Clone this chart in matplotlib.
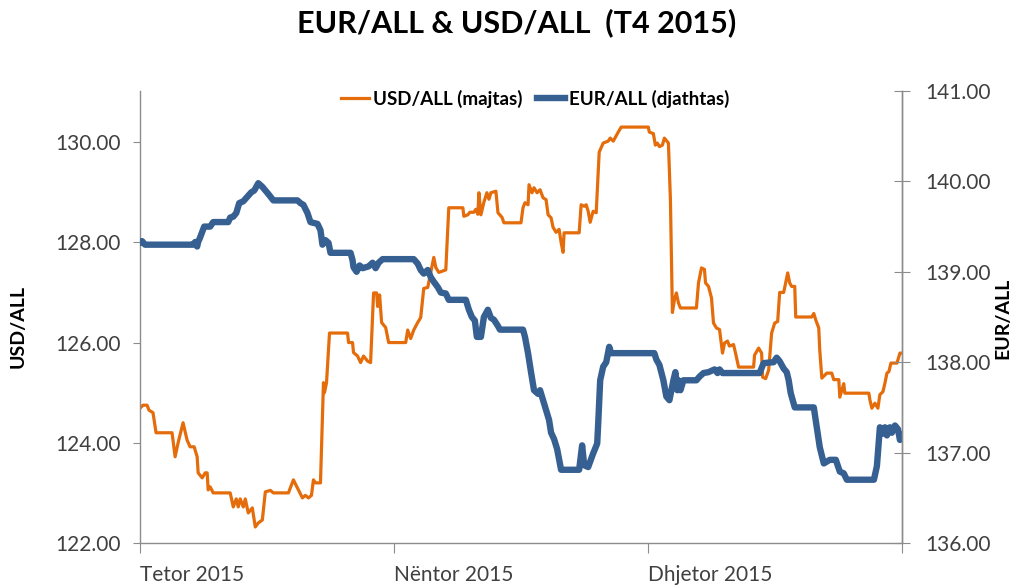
import matplotlib
matplotlib.use("Agg")
import matplotlib.pyplot as plt
from matplotlib.lines import Line2D

plt.rcParams['font.family'] = ['Lato', 'DejaVu Sans']

# ---- data (day offset from 1 Oct 2015, value) ----
usd_day = [0.0, 0.36, 0.85, 1.09, 1.57, 1.94, 3.87, 4.24, 4.6, 5.2, 5.69, 6.05, 6.54, 6.9, 7.02,
           7.51, 7.87, 8.11, 8.23, 8.47, 8.84, 10.89, 11.26, 11.62, 11.86, 12.1, 12.47, 12.71,
           13.07, 13.56, 13.92, 14.28, 14.77, 15.13, 15.74, 16.1, 17.92, 18.52, 19.01, 19.61,
           19.97, 20.34, 20.7, 20.94, 21.18, 21.79, 22.15, 22.27, 22.52, 22.88, 25.06, 25.18,
           25.66, 25.78, 26.27, 26.63, 26.99, 27.48, 27.84, 28.2, 28.57, 28.69, 28.93, 29.17,
           29.66, 30.02, 32.08, 32.32, 32.68, 33.05, 33.53, 33.89, 34.26, 34.74, 35.11, 35.47,
           35.71, 36.07, 36.92, 37.28, 38.98, 39.1, 39.58, 39.83, 40.31, 40.55, 40.79, 40.92,
           41.16, 41.52, 41.88, 42.13, 42.37, 42.97, 43.22, 43.7, 43.94, 46.0, 46.24, 46.48,
           46.85, 46.97, 47.33, 47.57, 47.94, 48.3, 48.66, 49.03, 49.27, 49.63, 49.87, 50.24,
           50.6, 50.84, 51.08, 51.2, 53.02, 53.26, 53.63, 53.87, 54.11, 54.35, 54.71, 55.08,
           55.44, 55.92, 56.53, 56.77, 57.14, 57.74, 58.1, 61.37, 61.49, 61.98, 62.22, 62.46,
           62.71, 63.07, 63.31, 63.8, 64.04, 64.28, 64.52, 64.76, 65.01, 65.25, 67.18, 67.43,
           67.79, 68.15, 68.28, 68.64, 69.0, 69.24, 69.6, 69.97, 70.33, 70.57, 70.93, 71.17,
           71.66, 71.9, 72.27, 74.08, 74.2, 74.69, 75.05, 75.17, 75.54, 75.9, 76.26, 76.63,
           76.99, 77.23, 77.71, 77.84, 78.2, 78.44, 78.68, 79.05, 79.17, 81.1, 81.35, 81.59,
           81.95, 82.07, 82.32, 82.92, 83.52, 83.76, 84.37, 84.49, 84.97, 85.09, 88.0, 88.12,
           88.36, 88.73, 89.09, 89.33, 89.7, 89.94, 90.18, 90.42, 90.66, 91.39, 91.75, 92.0]
usd_val = [124.69, 124.75, 124.75, 124.65, 124.6, 124.2, 124.2, 123.72, 124.0, 124.4, 124.05,
           123.92, 123.92, 123.72, 123.4, 123.3, 123.4, 123.4, 123.06, 123.12, 123.0, 123.0,
           122.72, 122.88, 122.72, 122.88, 122.72, 122.88, 122.6, 122.7, 122.32, 122.4, 122.46,
           123.02, 123.05, 123.0, 123.0, 123.26, 123.1, 122.9, 122.95, 122.9, 122.95, 123.26,
           123.2, 123.2, 125.2, 125.0, 125.2, 126.19, 126.19, 126.0, 126.0, 125.8, 125.73,
           125.6, 125.73, 125.63, 125.6, 126.99, 126.99, 126.72, 126.95, 126.4, 126.3, 126.0,
           126.0, 126.25, 126.08, 126.25, 126.4, 126.5, 127.08, 127.1, 127.4, 127.7, 127.5,
           127.4, 127.45, 128.69, 128.69, 128.52, 128.55, 128.6, 128.6, 128.66, 128.56, 128.99,
           128.55, 128.8, 128.99, 128.86, 128.99, 129.02, 128.59, 128.5, 128.39, 128.39, 128.69,
           128.79, 128.75, 129.15, 128.99, 129.09, 128.99, 129.05, 128.89, 128.85, 128.55,
           128.49, 128.3, 128.2, 128.26, 128.0, 127.8, 128.19, 128.19, 128.75, 128.72, 128.75,
           128.62, 128.4, 128.62, 128.59, 129.8, 129.98, 130.02, 130.08, 130.02, 130.2, 130.3,
           130.3, 130.2, 130.17, 129.94, 129.98, 129.91, 129.94, 130.08, 129.98, 128.85, 126.6,
           126.85, 126.99, 126.79, 126.69, 126.69, 127.19, 127.49, 127.46, 127.19, 127.12,
           126.89, 126.39, 126.29, 126.26, 125.79, 125.99, 126.03, 125.93, 125.96, 125.79,
           125.51, 125.51, 125.75, 125.89, 125.79, 125.31, 125.28, 125.45, 126.19, 126.39,
           126.42, 127.0, 127.0, 127.1, 127.39, 127.19, 127.12, 127.12, 126.51, 126.51, 126.58,
           126.45, 126.29, 125.85, 125.29, 125.39, 125.39, 125.26, 125.26, 124.91, 125.18,
           124.99, 124.99, 124.86, 124.69, 124.79, 124.69, 124.96, 125.02, 125.19, 125.39,
           125.42, 125.59, 125.59, 125.79, 125.79]

eur_day = [0.0, 0.24, 0.61, 6.42, 6.66, 6.9, 7.02, 7.26, 7.75, 8.47, 8.84, 10.65, 10.89, 11.26,
           11.62, 11.98, 12.47, 12.95, 13.44, 13.8, 14.28, 14.77, 15.13, 15.5, 16.1, 19.01,
           19.37, 19.73, 20.22, 20.58, 21.43, 21.79, 22.03, 22.39, 22.76, 23.0, 25.42, 25.66,
           25.78, 26.15, 26.51, 26.88, 27.6, 28.08, 28.45, 28.81, 29.29, 33.05, 33.53, 33.89,
           34.26, 34.74, 35.11, 35.47, 35.95, 36.32, 36.92, 37.28, 39.34, 39.71, 40.07, 40.43,
           40.67, 41.16, 41.52, 42.0, 42.37, 42.73, 43.22, 43.46, 46.24, 46.48, 46.85, 47.21,
           47.57, 48.06, 48.3, 48.66, 49.03, 49.39, 49.63, 49.99, 50.36, 50.84, 53.02, 53.38,
           53.63, 54.11, 54.71, 55.2, 55.32, 55.56, 55.92, 56.29, 56.65, 56.89, 62.1, 62.34,
           62.71, 63.19, 63.55, 63.92, 64.4, 64.64, 64.88, 65.01, 65.25, 65.61, 67.18, 67.55,
           68.03, 68.64, 69.37, 69.73, 69.97, 70.33, 74.81, 75.29, 76.5, 76.87, 77.23, 77.71,
           78.08, 78.32, 78.56, 79.05, 81.35, 81.71, 82.07, 82.56, 82.92, 83.28, 84.01, 84.49,
           84.97, 85.34, 88.61, 88.97, 89.33, 89.7, 89.94, 90.18, 90.54, 90.78, 91.15, 91.51,
           91.75, 92.0]
eur_val = [139.32, 139.34, 139.3, 139.3, 139.33, 139.28, 139.33, 139.38, 139.5, 139.5, 139.55,
           139.55, 139.6, 139.61, 139.65, 139.76, 139.78, 139.83, 139.88, 139.9, 139.98, 139.94,
           139.9, 139.86, 139.79, 139.79, 139.76, 139.74, 139.65, 139.55, 139.53, 139.46,
           139.3, 139.35, 139.32, 139.21, 139.21, 139.13, 139.05, 139.0, 139.07, 139.04, 139.06,
           139.1, 139.04, 139.1, 139.14, 139.14, 139.09, 139.02, 138.98, 139.02, 138.94, 138.89,
           138.83, 138.77, 138.76, 138.69, 138.69, 138.58, 138.5, 138.46, 138.28, 138.28, 138.5,
           138.58, 138.49, 138.47, 138.4, 138.36, 138.36, 138.28, 138.1, 137.89, 137.69, 137.65,
           137.69, 137.58, 137.47, 137.36, 137.22, 137.15, 137.04, 136.81, 136.81, 137.08,
           136.86, 136.84, 136.99, 137.1, 137.32, 137.8, 137.95, 138.0, 138.17, 138.1, 138.1,
           138.03, 137.97, 137.8, 137.62, 137.58, 137.8, 137.89, 137.69, 137.8, 137.69, 137.8,
           137.8, 137.84, 137.88, 137.89, 137.92, 137.88, 137.92, 137.88, 137.88, 137.99, 138.0,
           138.05, 138.01, 137.93, 137.89, 137.8, 137.66, 137.5, 137.5, 137.28, 137.06, 136.88,
           136.9, 136.92, 136.92, 136.79, 136.77, 136.7, 136.7, 136.85, 137.28, 137.21, 137.28,
           137.19, 137.28, 137.22, 137.3, 137.26, 137.14, 137.2]

month_labels = ["Tetor 2015", "Nëntor 2015", "Dhjetor 2015"]
usd_ticks = [122, 124, 126, 128, 130]
eur_ticks = [136, 137, 138, 139, 140, 141]

ORANGE = '#E46C0A'
BLUE = '#376092'
TXT = '#404040'
SPINE = '#8C8C8C'

fig = plt.figure(figsize=(10.17, 5.87), dpi=100)
ax = fig.add_axes([140/1017, 1-543/587, 762/1017, (543-91)/587])
ax2 = ax.twinx()

ax.plot(usd_day, usd_val, color=ORANGE, lw=2.3, solid_joinstyle='round')
ax2.plot(eur_day, eur_val, color=BLUE, lw=4.6, solid_joinstyle='round', solid_capstyle='round')

ax.set_xlim(0, 92)
ax.set_ylim(122, 131.02)
ax2.set_ylim(136, 141)
ax.set_yticks(usd_ticks)
ax.set_yticklabels([f"{v:.2f}" for v in usd_ticks])
ax2.set_yticks(eur_ticks)
ax2.set_yticklabels([f"{v:.2f}" for v in eur_ticks])

xt = [0, 92/3, 2*92/3, 92]
ax.set_xticks(xt)
ax.set_xticklabels(month_labels + [""], ha='left')

for a in (ax, ax2):
    for s in a.spines.values():
        s.set_color(SPINE)
        s.set_linewidth(1.0)
    a.spines['top'].set_visible(False)
ax2.spines['left'].set_visible(False)
ax2.spines['bottom'].set_visible(False)

ax.tick_params(axis='y', direction='out', length=5, color=SPINE, labelsize=15, labelcolor=TXT, pad=9)
ax.tick_params(axis='x', direction='out', length=7, color=SPINE, labelsize=15, labelcolor=TXT, pad=9)
ax2.tick_params(axis='y', direction='inout', length=11, color=SPINE, labelsize=15, labelcolor=TXT, pad=11)

fig.text(18/1017, 1-327/587, "USD/ALL", rotation=90, ha='center', va='center',
         fontsize=14, fontweight='bold', color='black')
fig.text(1003/1017, 1-318/587, "EUR/ALL", rotation=90, ha='center', va='center',
         fontsize=14, fontweight='bold', color='black')

fig.text(0.508, 0.962, "EUR/ALL & USD/ALL  (T4 2015)", ha='center', va='center',
         fontsize=22, fontweight='bold', color='black')

handles = [Line2D([], [], color=ORANGE, lw=2.3), Line2D([], [], color=BLUE, lw=4.6)]
leg = fig.legend(handles, ["USD/ALL (majtas)", "EUR/ALL (djathtas)"], loc='center',
                 bbox_to_anchor=(535/1017, 1-99/587), ncol=2, frameon=False,
                 prop={'size': 13.5, 'weight': 'bold'}, handlelength=1.5, handletextpad=0.2,
                 columnspacing=0.8)

fig.savefig("out.png", dpi=100)
